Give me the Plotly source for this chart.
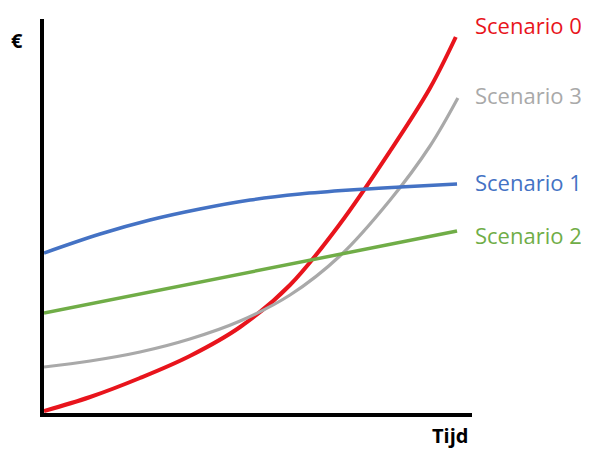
import plotly.graph_objects as go

# Values (time in arbitrary units, money in arbitrary units)
x_red = [0, 1.11, 2.31, 3.51, 4.72, 5.92, 7.12, 8.33, 9.29, 9.91]
y_red = [2, 16, 35, 57, 86, 128, 189, 262, 325, 376]

x_gray = [0, 1.11, 2.31, 3.51, 4.72, 5.92, 7.12, 8.33, 9.29, 9.96]
y_gray = [46, 52, 61, 74, 92, 118, 157, 213, 267, 315]

x_blue = [0, 1.35, 2.55, 3.75, 4.96, 6.16, 7.36, 8.57, 9.94]
y_blue = [160, 179, 193, 204, 213, 219, 223, 226, 229]

x_green = [0, 9.94]
y_green = [100, 182]

labels = ["Scenario 0", "Scenario 3", "Scenario 1", "Scenario 2"]
label_y = [388, 318, 231, 178]
colors = ["#e8141c", "#a9a9a9", "#4472c4", "#70ad47"]
widths = [4, 3.2, 3.5, 3.5]

fig = go.Figure()
series = [(x_red, y_red), (x_gray, y_gray), (x_blue, y_blue), (x_green, y_green)]
for (xs, ys), c, w in zip(series, colors, widths):
    fig.add_trace(go.Scatter(x=xs, y=ys, mode="lines",
                             line=dict(color=c, width=w, shape="spline", smoothing=1.0),
                             hoverinfo="skip", showlegend=False))

for lab, ly, c in zip(labels, label_y, colors):
    fig.add_annotation(x=1, y=ly, xref="paper", yref="y", text=lab, showarrow=False,
                       xanchor="left", yanchor="middle", xshift=1,
                       font=dict(family="Open Sans", size=22, color=c))

fig.add_annotation(x=0, y=1, xref="paper", yref="paper", text="<b>€</b>", showarrow=False,
                   xanchor="center", yanchor="middle", xshift=-27, yshift=-21,
                   font=dict(family="Open Sans", size=20, color="black"))
fig.add_annotation(x=1, y=0, xref="paper", yref="paper", text="<b>Tijd</b>", showarrow=False,
                   xanchor="center", yanchor="middle", xshift=-22, yshift=-22,
                   font=dict(family="Open Sans", size=20, color="black"))

fig.update_layout(
    width=589, height=450,
    margin=dict(l=36, r=125, t=11, b=45),
    plot_bgcolor="white", paper_bgcolor="white",
    xaxis=dict(range=[0, 10.3], showgrid=False, zeroline=False, showticklabels=False,
               ticks="", showline=True, linecolor="black", linewidth=4),
    yaxis=dict(range=[0, 394], showgrid=False, zeroline=False, showticklabels=False,
               ticks="", showline=True, linecolor="black", linewidth=4),
)
fig.write_html("out.html")
